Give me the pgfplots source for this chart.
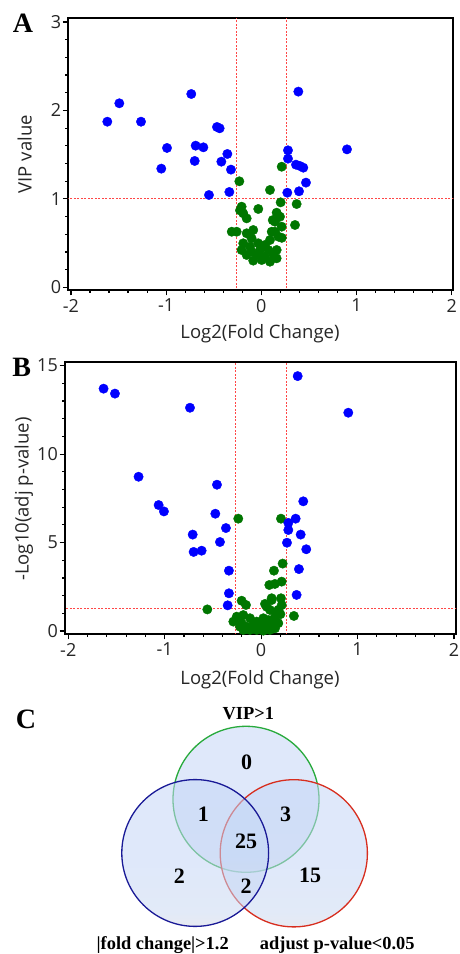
\documentclass[border=0pt]{standalone}
\usepackage{fontspec}
\setmainfont{Liberation Serif}
\newfontfamily\uisans{Open Sans}
\usepackage{pgfplots}
\pgfplotsset{compat=1.18}

\definecolor{ptblue}{RGB}{0,0,255}
\definecolor{ptgreen}{RGB}{0,118,0}
\definecolor{cutline}{RGB}{255,70,70}
\definecolor{vtop}{RGB}{196,214,246}
\definecolor{vmid}{RGB}{202,216,242}
\definecolor{vbot}{RGB}{242,214,192}
\definecolor{vgreen}{RGB}{40,170,60}
\definecolor{vblue}{RGB}{25,25,150}
\definecolor{vred}{RGB}{215,45,30}
\pgfdeclareverticalshading{venn}{100bp}{color(0bp)=(vbot); color(8bp)=(vbot); color(30bp)=(vmid); color(50bp)=(vtop); color(100bp)=(vtop)}

\pgfplotsset{volcano/.style={
  scale only axis, anchor=south west,
  axis line style={line width=1.8pt},
  tick pos=left, tick align=outside,
  major tick length=5.5pt, minor tick length=3pt,
  every tick/.style={black, line width=1.2pt},
  minor x tick num=4, minor y tick num=4,
  xtick={-2,-1,0,1,2},
  ticklabel style={font=\uisans\fontsize{18}{18}\selectfont, text=black!85},
  yticklabel style={inner xsep=1.5pt},
  /pgf/number format/assume math mode=true,
  cutoff/.style={cutline, line width=0.8pt, dash pattern=on 2pt off 1.5pt},
  up/.style={ptblue, only marks, mark=*, mark size=4.7pt},
  ns/.style={ptgreen, only marks, mark=*, mark size=4.7pt},
}}

\pgfplotstableread{
x y
-0.231 1.199
0.091 1.101
0.214 1.364
0.203 0.961
0.371 0.942
-0.207 0.912
-0.032 0.886
-0.190 0.837
0.161 0.844
-0.154 0.780
0.196 0.799
0.144 0.742
0.354 0.705
0.214 0.686
-0.311 0.629
-0.259 0.629
-0.085 0.648
-0.154 0.611
0.144 0.629
0.179 0.573
-0.102 0.554
0.091 0.535
-0.190 0.498
-0.032 0.498
0.038 0.479
-0.207 0.422
-0.102 0.403
-0.014 0.422
0.073 0.422
0.161 0.422
-0.154 0.366
-0.049 0.366
0.038 0.347
0.126 0.366
0.161 0.328
-0.085 0.302
0.004 0.309
0.091 0.290
-0.119 0.460
0.109 0.629
-0.224 0.870
0.120 0.760
0.215 0.560
}\vipns

\pgfplotstableread{
x y
-1.618 1.873
-1.492 2.081
-1.264 1.873
-0.736 2.186
0.389 2.213
-0.991 1.576
-1.051 1.342
-0.690 1.602
-0.609 1.583
-0.700 1.429
-0.466 1.813
-0.438 1.798
-0.357 1.508
-0.420 1.421
-0.319 1.331
-0.550 1.044
-0.336 1.078
0.280 1.549
0.280 1.455
0.364 1.387
0.406 1.372
0.441 1.353
0.469 1.184
0.273 1.070
0.396 1.086
0.900 1.560
}\vipup

\pgfplotstableread{
x y
-0.237 6.35
0.206 6.35
0.223 3.81
0.133 3.41
0.213 2.79
0.143 2.66
0.085 2.60
-0.558 1.22
-0.202 1.71
-0.157 1.47
0.109 1.85
0.206 1.85
0.040 1.53
0.340 0.85
0.110 1.75
0.214 1.47
0.092 1.19
0.162 1.09
-0.253 0.81
-0.185 0.90
-0.115 0.72
-0.288 0.53
-0.201 0.44
-0.046 0.53
0.023 0.72
0.075 0.62
0.144 0.81
0.178 0.44
0.110 0.34
-0.149 0.24
-0.081 0.34
-0.011 0.24
0.040 0.21
-0.115 0.06
-0.046 0.06
0.023 0.02
0.092 0.06
-0.185 0.06
0.144 0.15
-0.219 0.24
0.058 1.37
0.180 1.20
0.200 0.95
-0.080 0.15
0.010 0.40
0.150 0.60
-0.160 0.10
0.060 0.10
0.120 0.25
}\pns

\pgfplotstableread{
x y
-1.634 13.70
-1.516 13.42
-0.738 12.62
0.379 14.41
0.904 12.34
-1.271 8.72
-1.063 7.12
-1.008 6.76
-0.458 8.27
-0.475 6.63
-0.365 5.82
-0.710 5.45
-0.427 5.03
-0.700 4.47
-0.617 4.54
-0.334 3.41
-0.334 2.13
-0.347 1.45
0.437 7.33
0.358 6.35
0.282 6.11
0.282 5.71
0.410 5.45
0.268 4.99
0.468 4.62
0.392 3.50
0.368 2.04
}\pup

\begin{document}
\begin{tikzpicture}[x=1pt,y=1pt]
\useasboundingbox (0,0) rectangle (460,954);

% panel A
\begin{axis}[volcano, at={(68.3pt,664pt)}, width=385pt, height=271.7pt,
  xmin=-2.028, xmax=2.017, ymin=-0.03, ymax=3.042, ytick={0,1,2,3}]
\addplot[cutoff] coordinates {(-0.263,-1) (-0.263,4)};
\addplot[cutoff] coordinates {(0.263,-1) (0.263,4)};
\addplot[cutoff] coordinates {(-3,1) (3,1)};
\addplot[ns] table {\vipns};
\addplot[up] table {\vipup};
\end{axis}

% panel B
\begin{axis}[volcano, at={(65pt,320pt)}, width=391pt, height=271.7pt,
  xmin=-2.034, xmax=2.021, ymin=-0.17, ymax=15.19, ytick={0,5,10,15}]
\addplot[cutoff] coordinates {(-0.263,-1) (-0.263,16)};
\addplot[cutoff] coordinates {(0.263,-1) (0.263,16)};
\addplot[cutoff] coordinates {(-3,1.301) (3,1.301)};
\addplot[ns] table {\pns};
\addplot[up] table {\pup};
\end{axis}

% panel C
\begin{axis}[at={(0pt,0pt)}, anchor=south west, scale only axis,
  width=460pt, height=300pt, xmin=0, xmax=460, ymin=0, ymax=300,
  hide axis, clip=false]
\path[shading=venn, fill opacity=0.55, draw=vgreen, line width=1.3pt]
  (axis cs:246,154.7) circle[radius=73pt];
\path[shading=venn, fill opacity=0.55, draw=vred, line width=1.3pt]
  (axis cs:293.8,100.7) circle[radius=73.6pt];
\path[shading=venn, fill opacity=0.55, draw=vblue, line width=1.3pt]
  (axis cs:195.2,101) circle[radius=73.4pt];
\begin{scope}[every node/.style={font=\bfseries\fontsize{22}{22}\selectfont}]
\node at (axis cs:246.7,191.3) {0};
\node at (axis cs:203.3,140) {1};
\node at (axis cs:285.7,140) {3};
\node at (axis cs:246,112.3) {25};
\node at (axis cs:179.3,77.3) {2};
\node at (axis cs:246,67.3) {2};
\node at (axis cs:310,79) {15};
\end{scope}
\begin{scope}[every node/.style={font=\bfseries\fontsize{18.4}{18.4}\selectfont, anchor=base}]
\node at (axis cs:248.3,234) {VIP>1};
\node at (axis cs:162.7,4.7) {|fold change|>1.2};
\node at (axis cs:337.3,4.7) {adjust p-value<0.05};
\end{scope}
\end{axis}

% titles and labels
\begin{scope}[every node/.style={font=\bfseries\fontsize{28}{28}\selectfont, anchor=base}]
\node at (23,921) {A};
\node at (21.7,577) {B};
\node at (26,225.7) {C};
\end{scope}
\begin{scope}[every node/.style={font=\uisans\fontsize{18.5}{18.5}\selectfont, text=black!85, anchor=base}]
\node at (260,615) {Log2(Fold Change)};
\node at (260,269) {Log2(Fold Change)};
\node[rotate=90] at (31.7,799.8) {VIP value};
\node[rotate=90] at (28.5,454.8) {-Log10(adj p-value)};
\end{scope}
\end{tikzpicture}
\end{document}
